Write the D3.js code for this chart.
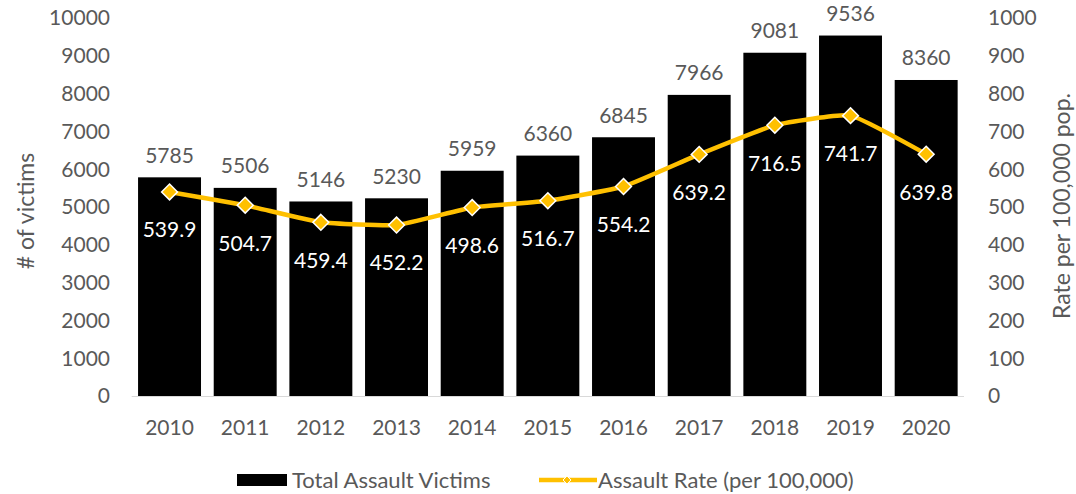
<!DOCTYPE html>
<html><head><meta charset="utf-8">
<script src="https://cdn.jsdelivr.net/npm/d3@7"></script>
<style>body{margin:0;background:#fff;} text{font-family:Lato, "Open Sans", sans-serif;}</style>
</head><body><svg id="c" width="1076" height="494"></svg>
<script>
const years = ["2010","2011","2012","2013","2014","2015","2016","2017","2018","2019","2020"];
const victims = [5785,5506,5146,5230,5959,6360,6845,7966,9081,9536,8360];
const rates = [539.9,504.7,459.4,452.2,498.6,516.7,554.2,639.2,716.5,741.7,639.8];
const leftTicks = [0,1000,2000,3000,4000,5000,6000,7000,8000,9000,10000];
const rightTicks = [0,100,200,300,400,500,600,700,800,900,1000];

const svg = d3.select("#c");
const gray = "#595959", gold = "#FFC000";
const x = d3.scaleBand().domain(years).range([131.7,964]).paddingInner(0.168).paddingOuter(0.084);
const yL = d3.scaleLinear().domain([0,10000]).range([396,18]);
const yR = d3.scaleLinear().domain([0,1000]).range([396,18]);
const fs = 21;

svg.append("g").selectAll("text").data(leftTicks).join("text")
  .attr("x",110).attr("y",d=>yL(d)).attr("dy","0.35em").attr("text-anchor","end")
  .attr("fill",gray).attr("font-size",fs).text(d=>d);
svg.append("g").selectAll("text").data(rightTicks).join("text")
  .attr("x",988).attr("y",d=>yR(d)).attr("dy","0.35em").attr("text-anchor","start")
  .attr("fill",gray).attr("font-size",fs).text(d=>d);

svg.append("line").attr("x1",131.7).attr("x2",964).attr("y1",396.5).attr("y2",396.5).attr("stroke","#d9d9d9");

svg.append("g").selectAll("rect").data(years).join("rect")
  .attr("x",d=>x(d)).attr("width",x.bandwidth())
  .attr("y",(d,i)=>yL(victims[i])).attr("height",(d,i)=>yL(0)-yL(victims[i]))
  .attr("fill","#000");
svg.append("g").selectAll("text").data(years).join("text")
  .attr("x",d=>x(d)+x.bandwidth()/2).attr("y",(d,i)=>yL(victims[i])-22).attr("dy","0.35em")
  .attr("text-anchor","middle").attr("fill",gray).attr("font-size",fs).text((d,i)=>victims[i]);

svg.append("g").selectAll("text").data(years).join("text")
  .attr("x",d=>x(d)+x.bandwidth()/2).attr("y",428).attr("dy","0.35em")
  .attr("text-anchor","middle").attr("fill",gray).attr("font-size",fs).text(d=>d);

const pts = years.map((d,i)=>[x(d)+x.bandwidth()/2, yR(rates[i])]);
svg.append("path").attr("d",d3.line().curve(d3.curveCardinal.tension(0.6))(pts))
  .attr("fill","none").attr("stroke",gold).attr("stroke-width",4.5);
const diamond = d3.symbol().type(d3.symbolDiamond2).size(160);
svg.append("g").selectAll("path").data(pts).join("path")
  .attr("transform",d=>`translate(${d[0]},${d[1]})`).attr("d",diamond)
  .attr("fill",gold).attr("stroke","#fff").attr("stroke-width",1.5);
svg.append("g").selectAll("text").data(pts).join("text")
  .attr("x",d=>d[0]).attr("y",d=>d[1]+38).attr("dy","0.35em")
  .attr("text-anchor","middle").attr("fill","#fff").attr("font-size",fs).text((d,i)=>rates[i].toFixed(1));

svg.append("text").attr("transform","translate(26,211) rotate(-90)").attr("text-anchor","middle")
  .attr("dy","0.35em").attr("fill",gray).attr("font-size",23).text("# of victims");
svg.append("text").attr("transform","translate(1062,206) rotate(-90)").attr("text-anchor","middle")
  .attr("dy","0.35em").attr("fill",gray).attr("font-size",23).text("Rate per 100,000 pop.");

const lg = svg.append("g");
lg.append("rect").attr("x",237).attr("y",474).attr("width",50).attr("height",12).attr("fill","#000");
lg.append("text").attr("x",292).attr("y",480).attr("dy","0.35em").attr("fill",gray).attr("font-size",22).text("Total Assault Victims");
lg.append("line").attr("x1",539).attr("x2",597).attr("y1",480).attr("y2",480).attr("stroke",gold).attr("stroke-width",4.5);
lg.append("path").attr("transform","translate(567,480)").attr("d",d3.symbol().type(d3.symbolDiamond2).size(40))
  .attr("fill",gold).attr("stroke","#fff").attr("stroke-width",1);
lg.append("text").attr("x",598).attr("y",480).attr("dy","0.35em").attr("fill",gray).attr("font-size",22).text("Assault Rate (per 100,000)");
</script></body></html>
